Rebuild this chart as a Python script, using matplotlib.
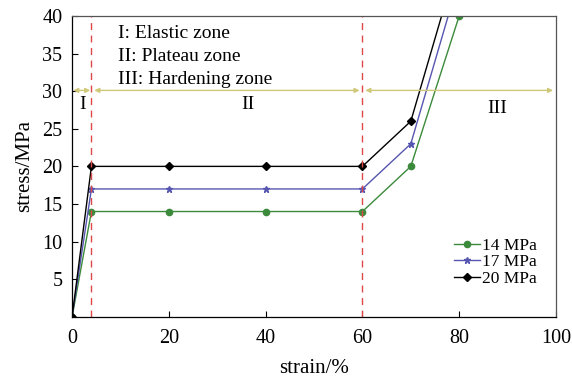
import matplotlib.pyplot as plt

plt.rcParams["font.family"] = ["Liberation Serif", "DejaVu Serif"]

strain = [0, 4, 20, 40, 60, 70, 80]
stress_14 = [0, 14, 14, 14, 14, 20, 40]
stress_17 = [0, 17, 17, 17, 17, 23, 45]
stress_20 = [0, 20, 20, 20, 20, 26, 48]
labels = ["14 MPa", "17 MPa", "20 MPa"]

zone_bounds = [0, 4, 60, 100]
zone_names = ["I", "II", "III"]
zone_label_x = [2.2, 36.4, 87.8]
zone_label_y = [28.2, 28.2, 27.7]
zone_text = ["I: Elastic zone", "II: Plateau zone", "III: Hardening zone"]

fig = plt.figure(figsize=(5.72, 3.79), dpi=100)
ax = fig.add_axes([0.126, 0.164, 0.846, 0.794])

ax.plot(strain, stress_14, color="#3c8a3c", lw=1.0, marker="o", ms=4.5, label=labels[0])
ax.plot(strain, stress_17, color="#5656b0", lw=1.0, marker="*", ms=5, label=labels[1])
ax.plot(strain, stress_20, color="black", lw=1.0, marker="D", ms=4, label=labels[2])

for xb in zone_bounds[1:3]:
    ax.axvline(xb, color="#e04848", lw=1.0, ls=(0, (5, 4)))

arrow_col = "#cfc878"
for i in range(3):
    x0, x1 = zone_bounds[i], zone_bounds[i + 1]
    pad = 0.25 if i == 0 else 0.6
    ax.annotate("", xy=(x0 + pad, 30.1), xytext=(x1 - pad, 30.1),
                arrowprops=dict(arrowstyle="<|-|>", color=arrow_col, lw=1.0,
                                mutation_scale=7, shrinkA=0, shrinkB=0))
    ax.text(zone_label_x[i], zone_label_y[i], zone_names[i], ha="center", va="center", fontsize=14)

for k, t in enumerate(zone_text):
    ax.text(9.5, 37.6 - 3.0 * k, t, ha="left", va="center", fontsize=14)

ax.set_xlim(0, 100)
ax.set_ylim(0, 40)
ax.set_xticks([0, 20, 40, 60, 80, 100])
ax.set_yticks([5, 10, 15, 20, 25, 30, 35, 40])
ax.tick_params(direction="in", labelsize=14.5, length=4, width=0.8)
ax.tick_params(axis="x", pad=9)
ax.tick_params(axis="y", pad=7)
ax.set_xlabel("strain/%", fontsize=15, labelpad=8)
ax.set_ylabel("stress/MPa", fontsize=15, labelpad=6)
for side in ["top", "right"]:
    ax.spines[side].set_color("#555555")
for s in ax.spines.values():
    s.set_linewidth(0.9)

ax.legend(loc="lower right", frameon=False, fontsize=12.5, handlelength=1.5,
          handletextpad=0.1, labelspacing=0.0, borderaxespad=0.3,
          bbox_to_anchor=(0.985, 0.06))

fig.savefig("out.png", dpi=100, facecolor="white")
